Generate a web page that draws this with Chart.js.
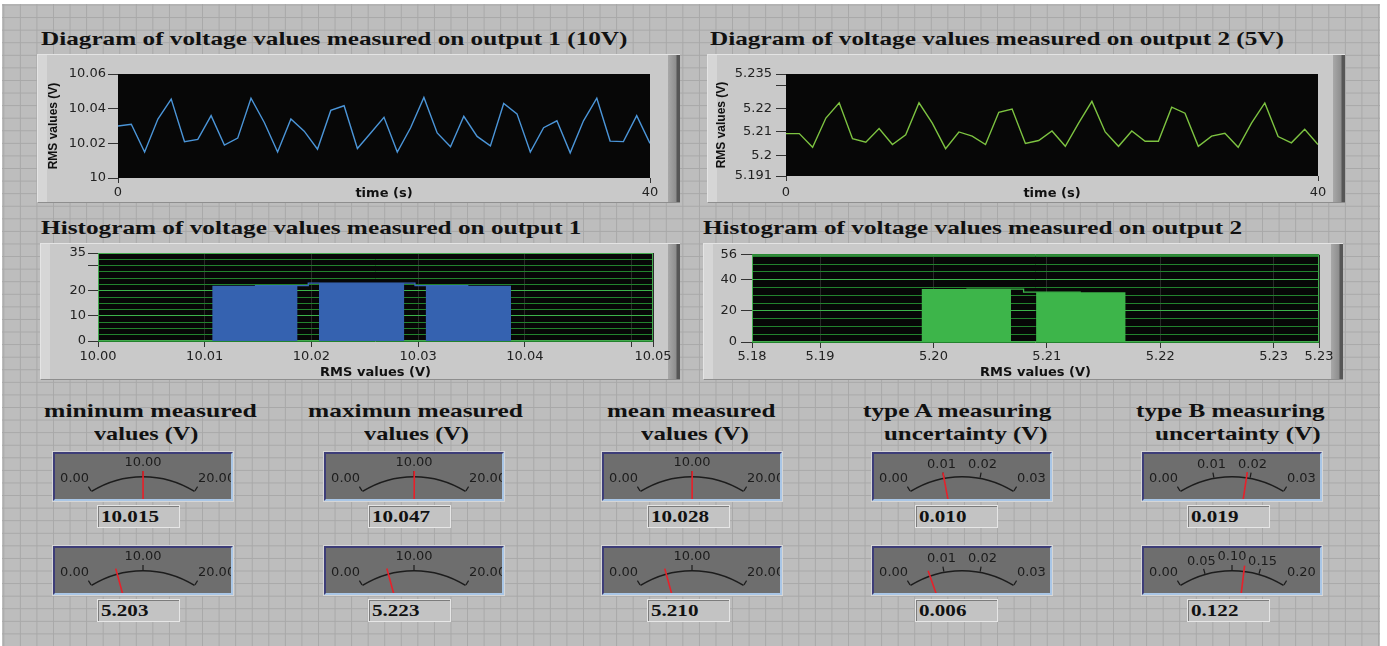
<!DOCTYPE html>
<html>
<head>
<meta charset="utf-8">
<script src="https://cdn.jsdelivr.net/npm/chart.js@4.4.0/dist/chart.umd.min.js"></script>
<style>
  html, body { margin: 0; padding: 0; background: #fff; }
  body { width: 1387px; height: 646px; position: relative; overflow: hidden; }
  #panel {
    position: absolute; left: 2px; top: 4px; width: 1378px; height: 642px;
    background-color: #bdbdbd;
    background-image: linear-gradient(to right, #a8a8a8 1px, transparent 1px),
                      linear-gradient(to bottom, #a8a8a8 1px, transparent 1px);
    background-size: 16.57px 12.58px;
    background-position: 1.3px 0.5px;
  }
  .frame {
    position: absolute; box-sizing: border-box;
    border-top: 1px solid #e4e4e4; border-left: 1px solid #e4e4e4; border-bottom: 1px solid #8e8e8e;
    background: linear-gradient(to right, #d6d6d6 0, #d6d6d6 9px, #c9c9c9 9px, #c9c9c9 calc(100% - 12px),
                #a8a8a8 calc(100% - 12px), #8e8e8e calc(100% - 4px), #565656 calc(100% - 3px), #565656 100%);
  }
  canvas.plot { position: absolute; }
  .title {
    position: absolute; white-space: nowrap; color: #111;
    font: bold 19px/19px "Liberation Serif", serif; transform-origin: 0 0;
  }
  .meter {
    position: absolute; width: 180px; height: 49px; box-sizing: border-box;
    background: #6e6e6e; border: 2px solid; border-color: #3d3d78 #a9c6e6 #a9c6e6 #3d3d78;
    box-shadow: 0 0 0 1px #d6d6d6;
  }
  .meter canvas { position: absolute; left: 0; top: 0; }
  .readout {
    position: absolute; width: 83px; height: 23px; box-sizing: border-box;
    background: #c3c3c3; border: 1px solid #e6e6e6; box-shadow: inset 1px 1px 0 #7c7c7c;
    font: bold 17px/21px "Liberation Serif", serif; color: #111; padding-left: 3px; white-space: nowrap;
  }
  .readout span { display: inline-block; transform: scaleX(1.24); transform-origin: 0 50%; }
</style>
</head>
<body>
<div id="panel"></div>
<script>
// ---- data ----
const time = Array.from({ length: 41 }, (_, i) => i);

// RMS values measured on output 1 (10V) and output 2 (5V), one per second
const rmsOut1 = [10.030, 10.031, 10.015, 10.034, 10.0455, 10.021, 10.0223, 10.036, 10.019, 10.023,
  10.046, 10.032, 10.015, 10.034, 10.027, 10.0166, 10.039, 10.0417, 10.017, 10.026,
  10.035, 10.015, 10.029, 10.0465, 10.026, 10.018, 10.0356, 10.024, 10.0185, 10.043,
  10.037, 10.015, 10.029, 10.033, 10.0145, 10.033, 10.046, 10.0213, 10.021, 10.036, 10.020];
const rmsOut2 = [5.2093, 5.2093, 5.2034, 5.2160, 5.2226, 5.2071, 5.2056, 5.2115, 5.2046, 5.2088,
  5.2226, 5.2138, 5.2028, 5.2100, 5.2082, 5.2046, 5.2185, 5.2199, 5.2050, 5.2063,
  5.2104, 5.2038, 5.2138, 5.2232, 5.2100, 5.2038, 5.2104, 5.2060, 5.2060, 5.2207,
  5.2181, 5.2038, 5.2082, 5.2094, 5.2034, 5.2138, 5.2225, 5.2080, 5.2053, 5.2112, 5.2046];

// histograms
const binCenters1 = [10.0147, 10.0247, 10.0347];
const binCounts1 = [22, 23, 22];
const binWidth1 = 0.008;
const binCenters2 = [5.2029, 5.2130];
const binCounts2 = [34, 32];
const binWidth2 = 0.0079;

// tick labels
const line1XTicks = [0, 40];
const line1YTicks = [10, 10.02, 10.04, 10.06];
const line1YLabels = ['10', '10.02', '10.04', '10.06'];
const line2YTicks = [5.191, 5.2, 5.21, 5.22, 5.23, 5.235];
const line2YLabels = ['5.191', '5.2', '5.21', '5.22', '', '5.235'];
const hist1XTicks = [10.00, 10.01, 10.02, 10.03, 10.04, 10.05, 10.052];
const hist1XLabels = ['10.00', '10.01', '10.02', '10.03', '10.04', '', '10.05'];
const hist1YGrid = [0, 2.5, 5, 7.5, 10, 12.5, 15, 17.5, 20, 22.5, 25, 27.5, 30, 32.5, 35];
const hist1YTicks = [0, 10, 20, 30, 35];
const hist1YLabels = ['0', '10', '20', '', '35'];
const hist2XTicks = [5.184, 5.19, 5.20, 5.21, 5.22, 5.23, 5.234];
const hist2XLabels = ['5.18', '5.19', '5.20', '5.21', '5.22', '5.23', '5.23'];
const hist2YGrid = [0, 5, 10, 15, 20, 25, 30, 35, 40, 45, 50, 55, 56];
const hist2YTicks = [0, 20, 40, 56];
const hist2YLabels = ['0', '20', '40', '56'];

// meters: row 1 = output 1, row 2 = output 2
const meterTitles = [['mininum measured', 'values (V)'], ['maximun measured', 'values (V)'],
  ['mean measured', 'values (V)'], ['type A measuring', 'uncertainty (V)'], ['type B measuring', 'uncertainty (V)']];
const meterValuesOut1 = [10.015, 10.047, 10.028, 0.010, 0.019];
const meterValuesOut2 = [5.203, 5.223, 5.210, 0.006, 0.122];
const scale20 = [0, 10, 20];
const scale003 = [0, 0.01, 0.02, 0.03];
const scale02 = [0, 0.05, 0.10, 0.15, 0.20];
const meterScalesOut1 = [scale20, scale20, scale20, scale003, scale003];
const meterScalesOut2 = [scale20, scale20, scale20, scale003, scale02];

// ---- page ----
Chart.defaults.font.family = '"DejaVu Sans", sans-serif';
Chart.defaults.font.size = 13;
Chart.defaults.color = '#222';

const plotBackground = {
  id: 'plotBackground',
  beforeDraw(chart, args, opts) {
    if (!opts.color) return;
    const { ctx, chartArea: a } = chart;
    ctx.save();
    ctx.fillStyle = opts.color;
    ctx.fillRect(a.left, a.top, a.width, a.height);
    ctx.restore();
  },
  beforeDatasetsDraw(chart, args, opts) {
    if (!opts.border) return;
    const { ctx, chartArea: a } = chart;
    ctx.save();
    ctx.strokeStyle = opts.border;
    ctx.lineWidth = 1;
    ctx.strokeRect(a.left + 0.5, a.top + 0.5, a.width - 1, a.height - 1);
    ctx.restore();
  }
};
Chart.register(plotBackground);

function addEl(cls, css, parent) {
  const el = document.createElement('div');
  el.className = cls;
  Object.assign(el.style, css);
  (parent || document.body).appendChild(el);
  return el;
}

function addCanvas(left, top, width, height) {
  const c = document.createElement('canvas');
  c.className = 'plot';
  c.width = width; c.height = height;
  c.style.left = left + 'px'; c.style.top = top + 'px';
  document.body.appendChild(c);
  return c;
}

// serif label stretched to the span it covers in the panel
function addTitle(text, x0, x1, baseline) {
  const el = addEl('title', { left: x0 + 'px', top: (baseline - 16) + 'px' });
  el.textContent = text;
  const w = el.getBoundingClientRect().width;
  el.style.transform = 'scaleX(' + ((x1 - x0) / w) + ')';
}

function fixedTicks(values) {
  return scale => { scale.ticks = values.map(v => ({ value: v })); };
}
function labelFor(values, labels) {
  return v => {
    const i = values.findIndex(t => Math.abs(t - v) < 1e-9);
    return i < 0 ? '' : labels[i];
  };
}
function isIn(values, v) {
  return values.some(t => Math.abs(t - v) < 1e-9);
}

const axisTitleFont = { weight: 'bold', size: 13 };
const yTitleFont = { family: '"Liberation Sans", sans-serif', weight: 'bold', size: 12 };

// frames
[[37, 54, 643, 149], [707, 54, 638, 149], [40, 243, 640, 137], [703, 243, 640, 137]].forEach(f => {
  addEl('frame', { left: f[0] + 'px', top: f[1] + 'px', width: f[2] + 'px', height: f[3] + 'px' });
});

addTitle('Diagram of voltage values measured on output 1 (10V)', 40.5, 627, 45);
addTitle('Diagram of voltage values measured on output 2 (5V)', 710, 1284, 45);
addTitle('Histogram of voltage values measured on output 1', 40.5, 581, 233.5);
addTitle('Histogram of voltage values measured on output 2', 703, 1242, 233.5);

function lineChart(canvas, values, color, cfg) {
  return new Chart(canvas, {
    type: 'line',
    data: {
      datasets: [{
        data: time.map((t, i) => ({ x: t, y: values[i] })),
        borderColor: color, borderWidth: 1.4, pointRadius: 0, tension: 0
      }]
    },
    options: {
      responsive: false, animation: false, events: [],
      layout: { padding: cfg.padding },
      plugins: { legend: { display: false }, tooltip: { enabled: false }, plotBackground: { color: '#070707' } },
      scales: {
        x: {
          type: 'linear', min: 0, max: 40,
          afterBuildTicks: fixedTicks(line1XTicks),
          afterFit: s => { s.height = cfg.xHeight; },
          grid: { drawOnChartArea: false, tickLength: 5, color: '#333' },
          border: { display: false },
          ticks: { padding: cfg.xPad, maxRotation: 0, autoSkip: false, callback: v => String(v) },
          title: { display: true, text: 'time (s)', font: axisTitleFont, color: '#111', padding: { top: 0, bottom: 2 } }
        },
        y: {
          type: 'linear', min: cfg.yMin, max: cfg.yMax,
          afterBuildTicks: fixedTicks(cfg.yTicks),
          afterFit: s => { s.width = cfg.yWidth; },
          grid: { drawOnChartArea: false, tickLength: 10, color: '#333' },
          border: { display: false },
          ticks: { padding: cfg.yPad, autoSkip: false, callback: labelFor(cfg.yTicks, cfg.yLabels) },
          title: { display: true, text: 'RMS values (V)', font: yTitleFont, color: '#111', padding: { top: cfg.yTitlePad, bottom: 0 } }
        }
      }
    }
  });
}

lineChart(addCanvas(37, 54, 643, 149), rmsOut1, '#4b95d8', {
  padding: { top: 20, right: 30, left: 0, bottom: 0 },
  xHeight: 25, xPad: 2, yWidth: 81, yPad: 2, yTitlePad: 9,
  yMin: 10, yMax: 10.06, yTicks: line1YTicks, yLabels: line1YLabels
});
lineChart(addCanvas(707, 54, 638, 149), rmsOut2, '#7dc341', {
  padding: { top: 20, right: 27, left: 0, bottom: 0 },
  xHeight: 27, xPad: 4, yWidth: 79, yPad: 4, yTitlePad: 7,
  yMin: 5.191, yMax: 5.235, yTicks: line2YTicks, yLabels: line2YLabels
});

function histChart(canvas, centers, counts, width, color, cfg) {
  const bars = centers.map((c, i) => ({
    data: [{ x: c - width / 2, y: 0 }, { x: c - width / 2, y: counts[i] },
           { x: c + width / 2, y: counts[i] }, { x: c + width / 2, y: 0 }],
    borderWidth: 0, pointRadius: 0, fill: 'origin', backgroundColor: color, borderColor: color
  }));
  const steps = {
    data: centers.map((c, i) => ({ x: c, y: counts[i] })),
    stepped: 'middle', borderColor: cfg.stepColor, borderWidth: 1.3, pointRadius: 0, fill: false
  };
  return new Chart(canvas, {
    type: 'line',
    data: { datasets: [steps].concat(bars) },
    options: {
      responsive: false, animation: false, events: [],
      layout: { padding: cfg.padding },
      plugins: { legend: { display: false }, tooltip: { enabled: false },
        plotBackground: { color: '#070707', border: '#43ab4e' } },
      scales: {
        x: {
          type: 'linear', min: cfg.xTicks[0], max: cfg.xTicks[cfg.xTicks.length - 1],
          afterBuildTicks: fixedTicks(cfg.xTicks),
          afterFit: s => { s.height = cfg.xHeight; },
          grid: { color: '#2a2a2a', tickColor: '#333', tickLength: 6 },
          border: { display: false },
          ticks: { padding: cfg.xPad, maxRotation: 0, autoSkip: false, callback: labelFor(cfg.xTicks, cfg.xLabels) },
          title: { display: true, text: 'RMS values (V)', font: axisTitleFont, color: '#111', padding: { top: 0, bottom: 0 } }
        },
        y: {
          type: 'linear', min: 0, max: cfg.yGrid[cfg.yGrid.length - 1],
          afterBuildTicks: fixedTicks(cfg.yGrid),
          afterFit: s => { s.width = cfg.yWidth; },
          grid: {
            tickLength: cfg.yTickLen,
            color: ctx => (ctx.tick && isIn(cfg.yMajor, ctx.tick.value)) ? '#3cb34a' : '#22822d',
            tickColor: ctx => (ctx.tick && isIn(cfg.yTicks, ctx.tick.value)) ? '#333' : 'rgba(0,0,0,0)'
          },
          border: { display: false },
          ticks: { padding: cfg.yPad, autoSkip: false, callback: labelFor(cfg.yTicks, cfg.yLabels) }
        }
      }
    }
  });
}

histChart(addCanvas(40, 243, 640, 137), binCenters1, binCounts1, binWidth1, '#3562b0', {
  stepColor: '#3a69bb',
  padding: { top: 10, right: 27, left: 0, bottom: 0 },
  xHeight: 39, xPad: 2, xTicks: hist1XTicks, xLabels: hist1XLabels,
  yWidth: 58, yPad: 2, yTickLen: 10, yGrid: hist1YGrid, yTicks: hist1YTicks, yLabels: hist1YLabels, yMajor: [10, 20]
});
histChart(addCanvas(703, 243, 640, 137), binCenters2, binCounts2, binWidth2, '#3db54a', {
  stepColor: '#3db54a',
  padding: { top: 9, right: 24, left: 0, bottom: 0 },
  xHeight: 38, xPad: 1, xTicks: hist2XTicks, xLabels: hist2XLabels,
  yWidth: 49, yPad: 4, yTickLen: 11, yGrid: hist2YGrid, yTicks: hist2YTicks, yLabels: hist2YLabels, yMajor: [20, 40]
});

// ---- meters ----
function meterFace(ticks, value) {
  return {
    id: 'meterFace',
    afterDatasetsDraw(chart) {
      const arc = chart.getDatasetMeta(0).data[0];
      const x = arc.x, y = arc.y, r = arc.outerRadius, a0 = arc.startAngle, a1 = arc.endAngle;
      const top = ticks[ticks.length - 1];
      const ang = v => a0 + (v / top) * (a1 - a0);
      const ctx = chart.ctx;
      ctx.save();
      ctx.strokeStyle = '#1c1c1c';
      ctx.fillStyle = '#1c1c1c';
      ctx.lineWidth = 1.2;
      ctx.font = '13px "DejaVu Sans"';
      ctx.textBaseline = 'middle';
      ticks.forEach((t, i) => {
        const a = ang(t), c = Math.cos(a), s = Math.sin(a);
        ctx.beginPath();
        ctx.moveTo(x + r * c, y + r * s);
        ctx.lineTo(x + (r + 5) * c, y + (r + 5) * s);
        ctx.stroke();
        const label = t.toFixed(2);
        if (i === 0) {
          ctx.textAlign = 'right';
          ctx.fillText(label, x + r * c - 2, y + r * s - 12);
        } else if (i === ticks.length - 1) {
          ctx.textAlign = 'left';
          ctx.fillText(label, x + r * c + 3, y + r * s - 12);
        } else {
          ctx.textAlign = 'center';
          ctx.fillText(label, x + (r + 13) * c, y + (r + 13) * s);
        }
      });
      const a = ang(value);
      ctx.strokeStyle = '#e8202a';
      ctx.lineWidth = 1.6;
      ctx.beginPath();
      ctx.moveTo(x + 40 * Math.cos(a), y + 40 * Math.sin(a));
      ctx.lineTo(x + (r + 5) * Math.cos(a), y + (r + 5) * Math.sin(a));
      ctx.stroke();
      ctx.restore();
    }
  };
}

function meter(left, top, ticks, value) {
  const box = addEl('meter', { left: left + 'px', top: top + 'px' });
  const c = document.createElement('canvas');
  c.width = 176; c.height = 45;
  box.appendChild(c);
  new Chart(c, {
    type: 'doughnut',
    data: { datasets: [{ data: [1], backgroundColor: '#1c1c1c', borderWidth: 0 }] },
    options: {
      responsive: false, animation: false, events: [],
      rotation: -32, circumference: 64, radius: 98, cutout: '98.5%',
      layout: { padding: { top: 15, bottom: 0, left: 0, right: 0 } },
      plugins: { legend: { display: false }, tooltip: { enabled: false } }
    },
    plugins: [meterFace(ticks, value)]
  });
}

function readout(left, top, value) {
  const el = addEl('readout', { left: left + 'px', top: top + 'px' });
  const s = document.createElement('span');
  s.textContent = value.toFixed(3);
  el.appendChild(s);
}

const meterLeft = [53, 324, 602, 872, 1142];
const readoutLeft = [97, 368, 647, 915, 1187];
const titleSpans = [[43.6, 256.4, 93.6, 198], [308, 523, 363.6, 468.6], [606.7, 775, 640.7, 748.5],
  [862.7, 1051, 884, 1047.5], [1136, 1324.7, 1154.8, 1320.5]];

meterTitles.forEach((t, i) => {
  addTitle(t[0], titleSpans[i][0], titleSpans[i][1], 416.5);
  addTitle(t[1], titleSpans[i][2], titleSpans[i][3], 439.5);
  meter(meterLeft[i], 452, meterScalesOut1[i], meterValuesOut1[i]);
  readout(readoutLeft[i], 505, meterValuesOut1[i]);
  meter(meterLeft[i], 546, meterScalesOut2[i], meterValuesOut2[i]);
  readout(readoutLeft[i], 599, meterValuesOut2[i]);
});
</script>
</body>
</html>
